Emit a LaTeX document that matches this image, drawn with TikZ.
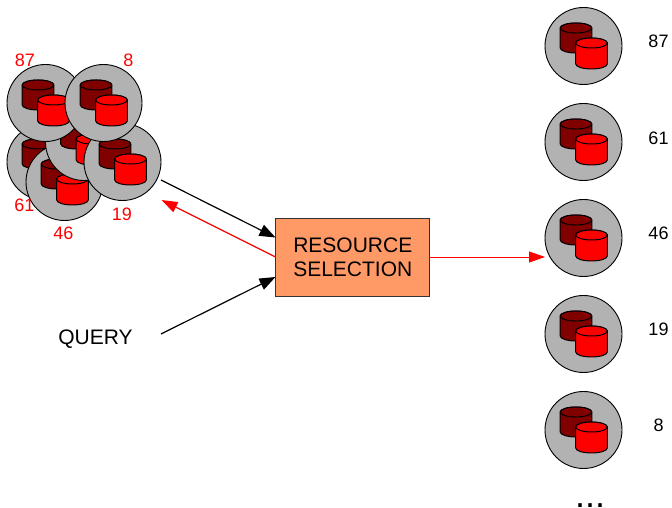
\documentclass[tikz,border=0pt]{standalone}
\usepackage{fontspec}
\setmainfont{Liberation Sans}
\usetikzlibrary{arrows.meta}
\tikzset{
  discshape/.style={circle,draw=black,fill=discgray,line width=0.9pt,minimum size=77pt,inner sep=0pt},
  cyl/.style={draw=black,line width=1pt},
  numlabel/.style={font=\fontsize{18}{20}\selectfont,inner sep=0pt},
  redlabel/.style={numlabel,text=red},
  boxstyle/.style={draw=boxedge,fill=boxfill,line width=1.2pt,minimum width=154pt,minimum height=77.5pt,inner sep=0pt,align=center,font=\fontsize{21}{24}\selectfont},
  blackarrow/.style={draw=black,line width=1.2pt,-{Triangle[length=16pt,width=12pt]}},
  redarrow/.style={draw=red,line width=1.3pt,-{Triangle[length=16pt,width=11pt]}},
  thinredarrow/.style={draw=red,line width=0.8pt,-{Triangle[length=16pt,width=11pt]}},
  pics/dbdisc/.style={code={
    \node[discshape] (disc) at (0,0) {};
    \path[cyl,fill=darkcyl] (-23.3,18) -- (-23.3,-2) arc[start angle=180,end angle=360,x radius=15.8,y radius=5] -- (8.3,18) arc[start angle=0,end angle=180,x radius=15.8,y radius=5] -- cycle;
    \path[cyl,fill=darkcyl] (-7.5,18) ellipse[x radius=15.8,y radius=5];
    \path[cyl,fill=red] (-7.8,3) -- (-7.8,-18) arc[start angle=180,end angle=360,x radius=15.8,y radius=5] -- (23.8,3) arc[start angle=0,end angle=180,x radius=15.8,y radius=5] -- cycle;
    \path[cyl,fill=red] (8,3) ellipse[x radius=15.8,y radius=5];
  }}
}
\definecolor{discgray}{HTML}{B2B2B2}
\definecolor{darkcyl}{HTML}{800000}
\definecolor{boxfill}{HTML}{FF9966}
\definecolor{boxedge}{HTML}{333333}
\begin{document}
\begin{tikzpicture}[x=1pt,y=1pt]
\useasboundingbox (0,0) rectangle (672,508);
% left cluster
\pic (l61) at (45.5,346) {dbdisc};
\pic (l46) at (64.5,326) {dbdisc};
\pic (lm) at (84,366) {dbdisc};
\pic (l19) at (122.5,346) {dbdisc};
\pic (l87) at (45.5,405) {dbdisc};
\pic (l8) at (103.5,405) {dbdisc};
\node[redlabel] (t87) at (25,448) {87};
\node[redlabel] (t8) at (128.5,448) {8};
\node[redlabel] (t19) at (122,294) {19};
\node[redlabel] (t46) at (63.5,275) {46};
\node[redlabel] (t61) at (24.5,303) {61};
% right column
\pic (r87) at (583.5,462) {dbdisc};
\pic (r61) at (583.5,366) {dbdisc};
\pic (r46) at (583.5,270) {dbdisc};
\pic (r19) at (583.5,174) {dbdisc};
\pic (r8) at (583.5,78) {dbdisc};
\node[numlabel] (n87) at (658.5,467) {87};
\node[numlabel] (n61) at (658.5,370) {61};
\node[numlabel] (n46) at (658.5,275) {46};
\node[numlabel] (n19) at (658.5,179) {19};
\node[numlabel] (n8) at (658.5,83) {8};
\node[font=\fontsize{36}{36}\selectfont,inner sep=0pt,anchor=base] (dots) at (590,0.5) {...};
% box
\node[boxstyle] (box) at (352.8,250.6) {RESOURCE\\SELECTION};
\node[font=\fontsize{21}{24}\selectfont,inner sep=0pt] (query) at (95.5,169) {QUERY};
% connectors
\coordinate (a1) at (161,328);
\coordinate (a1e) at (275.5,270.5);
\coordinate (a2s) at (275.5,251);
\coordinate (a2e) at (161.5,308);
\coordinate (a3s) at (161,174);
\coordinate (a3e) at (275.5,231);
\coordinate (a4e) at (545,251);
\draw[blackarrow] (a1) -- (a1e);
\draw[redarrow] (a2s) -- (a2e);
\draw[blackarrow] (a3s) -- (a3e);
\draw[thinredarrow] (box.east |- a2s) -- (a4e);
\end{tikzpicture}
\end{document}
